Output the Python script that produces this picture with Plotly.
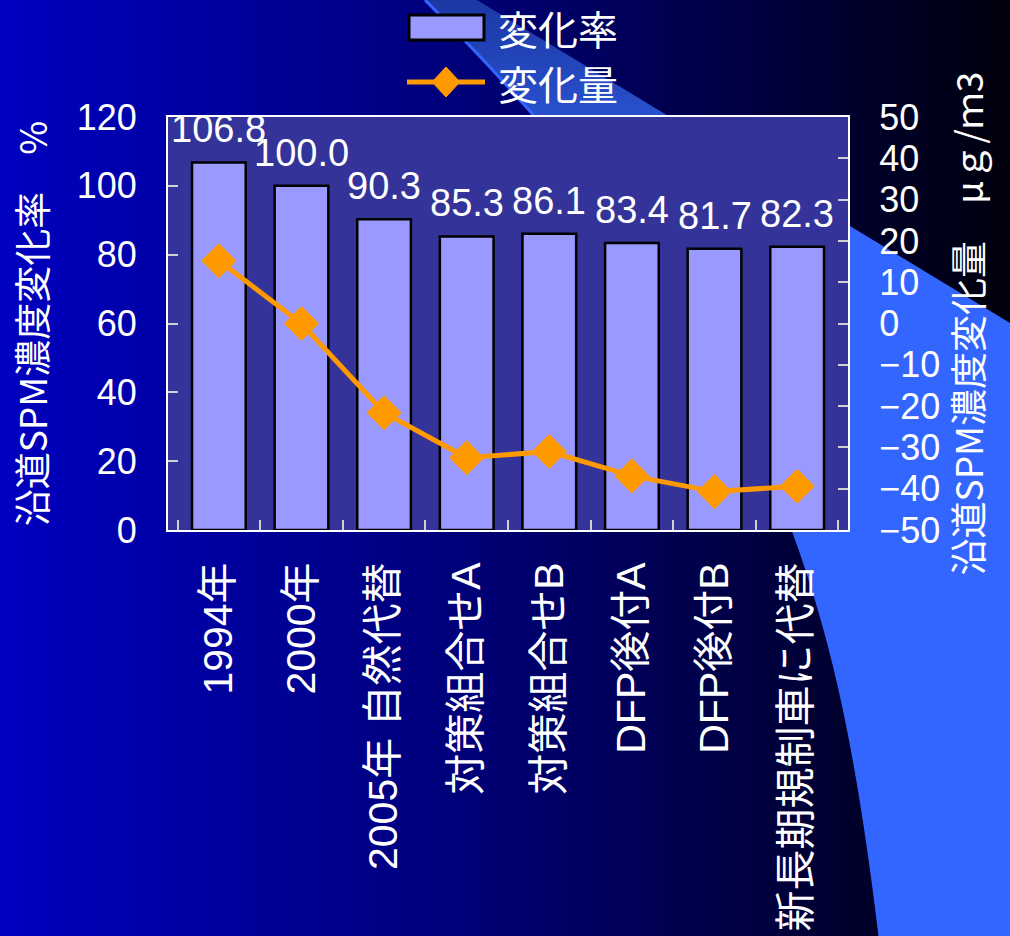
import base64
import plotly.graph_objects as go

# ---------------- data ----------------
categories = ["1994年", "2000年", "2005年 自然代替", "対策組合せA", "対策組合せB",
              "DFP後付A", "DFP後付B", "新長期規制車に代替"]
rate_pct = [106.8, 100.0, 90.3, 85.3, 86.1, 83.4, 81.7, 82.3]
change_ugm3 = [15.2, 0.0, -21.6, -32.5, -31.0, -36.9, -40.7, -39.4]
rate_name = "変化率"
change_name = "変化量"
left_title = "沿道SPM濃度変化率　%"
right_title = "沿道SPM濃度変化量　μｇ/ｍ3"
left_ticks = [0, 20, 40, 60, 80, 100, 120]
right_ticks = [-50, -40, -30, -20, -10, 0, 10, 20, 30, 40, 50]

# ---------------- layout geometry ----------------
W, H = 1010, 936
ML, MR, MT, MB = 168, 162, 117, 406
PW, PH = W - ML - MR, H - MT - MB

FONT = "Liberation Sans, Arial, Noto Sans CJK JP, sans-serif"
CJK_FONT = "Noto Sans CJK JP, Liberation Sans, sans-serif"
WHITE = "#FFFFFF"
BAR_FILL = "#9999FF"
LINE_COL = "#FF9900"
NUM_SIZE = 36


def px_x(px):
    return (px - ML) / PW


def px_y(py):
    return (H - MB - py) / PH


# ---------------- background (slide design) ----------------
svg = f"""<svg xmlns='http://www.w3.org/2000/svg' width='{W}' height='{H}' viewBox='0 0 {W} {H}'>
<defs>
<linearGradient id='bg' x1='0' y1='0' x2='1' y2='0'>
<stop offset='0' stop-color='#0000C0'/>
<stop offset='0.45' stop-color='#00007A'/>
<stop offset='0.75' stop-color='#000040'/>
<stop offset='1' stop-color='#00000C'/>
</linearGradient>
<linearGradient id='sw' x1='0' y1='0' x2='0' y2='{H}' gradientUnits='userSpaceOnUse'>
<stop offset='0' stop-color='#1C38A4'/>
<stop offset='0.12' stop-color='#2850CC'/>
<stop offset='0.24' stop-color='#3366FF'/>
<stop offset='1' stop-color='#3366FF'/>
</linearGradient>
</defs>
<rect x='0' y='0' width='{W}' height='{H}' fill='url(#bg)'/>
<path d='M425,0 L477,0 L1010,323 L1010,936 L880,936 C838,586 775,350 425,0 Z' fill='url(#sw)'/>
<path d='M425,0 C775,350 838,586 880,936' fill='none' stroke='#3366FF' stroke-width='3'/>
</svg>"""
svg_uri = "data:image/svg+xml;base64," + base64.b64encode(svg.encode("utf-8")).decode("ascii")

fig = go.Figure()

fig.add_trace(go.Bar(
    x=categories, y=rate_pct, name=rate_name,
    marker=dict(color=BAR_FILL, line=dict(color="#000000", width=2.5)),
    width=0.65, showlegend=False, hoverinfo="x+y",
))

fig.add_trace(go.Scatter(
    x=categories, y=change_ugm3, name=change_name, yaxis="y2",
    mode="lines+markers",
    line=dict(color=LINE_COL, width=5),
    marker=dict(symbol="diamond", size=27, color=LINE_COL),
    showlegend=False,
))

# data labels above bars
annotations = []
for c, v in zip(categories, rate_pct):
    annotations.append(dict(
        x=c, y=v, xref="x", yref="y", text=f"{v:.1f}", showarrow=False,
        yanchor="bottom", yshift=10, font=dict(family=FONT, size=NUM_SIZE + 2, color=WHITE),
    ))

# custom legend (large swatches as in the reference)
shapes = [
    # plot area background
    dict(type="rect", xref="paper", yref="paper", x0=0, x1=1, y0=0, y1=1,
         fillcolor="#333399", line=dict(width=0), layer="below"),
    # bar swatch
    dict(type="rect", xref="paper", yref="paper",
         x0=px_x(409), x1=px_x(484), y0=px_y(40), y1=px_y(15),
         fillcolor=BAR_FILL, line=dict(color="#000000", width=3)),
    # line swatch
    dict(type="line", xref="paper", yref="paper",
         x0=px_x(407), x1=px_x(485), y0=px_y(82), y1=px_y(82),
         line=dict(color=LINE_COL, width=5)),
    dict(type="path", xref="paper", yref="paper",
         path=(f"M{px_x(432)},{px_y(82)} L{px_x(446)},{px_y(67)} "
               f"L{px_x(460)},{px_y(82)} L{px_x(446)},{px_y(97)} Z"),
         fillcolor=LINE_COL, line=dict(color=LINE_COL, width=1)),
]
annotations += [
    dict(x=px_x(496), y=px_y(28), xref="paper", yref="paper", text=rate_name,
         showarrow=False, xanchor="left", yanchor="middle",
         font=dict(family=CJK_FONT, size=40, color=WHITE)),
    dict(x=px_x(496), y=px_y(83), xref="paper", yref="paper", text=change_name,
         showarrow=False, xanchor="left", yanchor="middle",
         font=dict(family=CJK_FONT, size=40, color=WHITE)),
]

fig.update_layout(
    width=W, height=H,
    margin=dict(l=ML, r=MR, t=MT, b=MB, autoexpand=False),
    paper_bgcolor="#000080",
    plot_bgcolor="rgba(0,0,0,0)",
    font=dict(family=FONT, size=NUM_SIZE, color=WHITE),
    showlegend=False,
    images=[dict(source=svg_uri, xref="paper", yref="paper",
                 x=-ML / PW, y=1 + MT / PH, sizex=W / PW, sizey=H / PH,
                 xanchor="left", yanchor="top", sizing="stretch", layer="below")],
    shapes=shapes,
    annotations=annotations,
    xaxis=dict(
        type="category", tickangle=-90, showgrid=False, automargin=False,
        showline=True, linecolor=WHITE, linewidth=2, mirror=True,
        ticks="inside", tickson="boundaries", ticklen=10, tickcolor="#D0D0D0", tickwidth=1.5,
        ticklabelstandoff=14,
        tickfont=dict(family=FONT, size=41, color=WHITE),
    ),
    yaxis=dict(
        range=[0, 120], tickvals=left_ticks, showgrid=False, zeroline=False, automargin=False,
        showline=True, linecolor=WHITE, linewidth=2, mirror=True,
        ticks="inside", ticklen=10, tickcolor="#D0D0D0", tickwidth=1.5,
        ticklabelstandoff=22,
        tickfont=dict(family=FONT, size=NUM_SIZE, color=WHITE),
        title=dict(text=left_title, standoff=18, font=dict(family=CJK_FONT, size=37, color=WHITE)),
    ),
    yaxis2=dict(
        range=[-50, 50], tickvals=right_ticks, overlaying="y", side="right",
        showgrid=False, zeroline=False, automargin=False,
        showline=True, linecolor=WHITE, linewidth=2,
        ticks="inside", ticklen=10, tickcolor="#D0D0D0", tickwidth=1.5,
        ticklabelstandoff=22,
        tickfont=dict(family=FONT, size=NUM_SIZE, color=WHITE),
        title=dict(text=right_title, standoff=16, font=dict(family=CJK_FONT, size=37, color=WHITE)),
    ),
)

fig.write_html("out.html")
